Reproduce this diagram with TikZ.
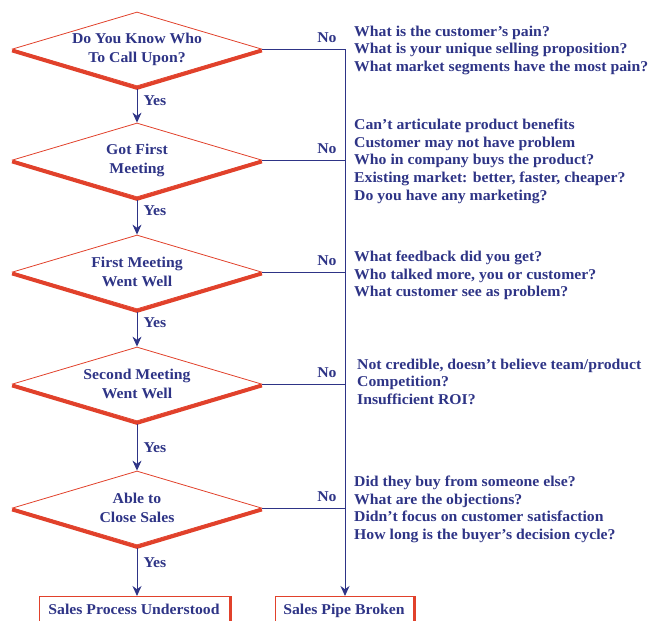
\documentclass[tikz,border=0pt]{standalone}
\usepackage{fontspec}
\setmainfont{Liberation Serif}[FakeStretch=1.05]
\usetikzlibrary{shapes.geometric,arrows.meta}
\definecolor{navy}{HTML}{2E3486}
\definecolor{redl}{HTML}{E1412B}
\begin{document}
\begin{tikzpicture}[x=1pt,y=-1pt,
  txt/.style={text=navy,font=\bfseries\fontsize{15}{17.8}\selectfont,inner sep=0pt},
  dec/.style={txt,diamond,draw=redl,line width=0.8pt,aspect=3.36,minimum width=249pt,minimum height=74pt,align=center,font=\bfseries\fontsize{15}{19}\selectfont},
  shade/.style={draw=redl,line width=3.6pt,line join=miter},
  conn/.style={draw=navy,line width=1pt},
  arr/.style={conn,-{Stealth[length=10pt,width=9pt]}},
  lbl/.style={txt},
  qs/.style={txt,align=left,anchor=north west},
  endbox/.style={txt,draw=redl,line width=0.8pt,anchor=north,inner ysep=8pt,text depth=22pt}
]
\clip (0,0) rectangle (649,621);
% decisions
\node[dec] (d1) at (137,49) {Do You Know Who\\To Call Upon?};
\node[dec] (d2) at (137,160) {Got First\\Meeting};
\node[dec] (d3) at (137,272) {First Meeting\\Went Well};
\node[dec] (d4) at (137,384) {Second Meeting\\Went Well};
\node[dec] (d5) at (137,508) {Able to\\Close Sales};
\foreach \d in {d1,d2,d3,d4,d5}{
  \draw[shade] ([yshift=-1.6pt]\d.west) -- ([yshift=-1.6pt]\d.south) -- ([yshift=-1.6pt]\d.east);
}
% end boxes
\node[endbox,minimum width=190pt] (b1) at (134,596) {Sales Process Understood};
\node[endbox,minimum width=138pt] (b2) at (344,596) {Sales Pipe Broken};
\draw[redl,line width=2.6pt] ([xshift=1pt]b1.north east) -- ([xshift=1pt]b1.south east);
\draw[redl,line width=2.6pt] ([xshift=1pt]b2.north east) -- ([xshift=1pt]b2.south east);
% yes connectors
\draw[arr] ([yshift=-3pt]d1.south) -- node[lbl,anchor=west,xshift=6pt,pos=0.35]{Yes} (d2.north);
\draw[arr] ([yshift=-3pt]d2.south) -- node[lbl,anchor=west,xshift=6pt,pos=0.3]{Yes} (d3.north);
\draw[arr] ([yshift=-3pt]d3.south) -- node[lbl,anchor=west,xshift=6pt,pos=0.3]{Yes} (d4.north);
\draw[arr] ([yshift=-3pt]d4.south) -- node[lbl,anchor=west,xshift=6pt,pos=0.5]{Yes} (d5.north);
\draw[arr] ([yshift=-3pt]d5.south) -- node[lbl,anchor=west,xshift=6pt,pos=0.3]{Yes} (d5.south |- b1.north);
% no connectors
\coordinate (bt) at (345,49);
\draw[arr] (d1.east) -- (bt) node[lbl,anchor=south east,xshift=-8pt,yshift=6pt]{No} -- (bt |- b2.north);
\foreach \d in {d2,d3,d4,d5}{
  \draw[conn] (\d.east) -- (\d.east -| bt) node[lbl,anchor=south east,xshift=-8pt,yshift=6pt]{No};
}
% question blocks
\node[qs] (q1) at (354,25.5) {What is the customer’s pain?\\What is your unique selling proposition?\\What market segments have the most pain?};
\node[qs] (q2) at (354,118.5) {Can’t articulate product benefits\\Customer may not have problem\\Who in company buys the product?\\Existing market: better, faster, cheaper?\\Do you have any marketing?};
\node[qs] (q3) at (354,250.5) {What feedback did you get?\\Who talked more, you or customer?\\What customer see as problem?};
\node[qs] (q4) at (357,358.5) {Not credible, doesn’t believe team/product\\Competition?\\Insufficient ROI?};
\node[qs] (q5) at (354,475.5) {Did they buy from someone else?\\What are the objections?\\Didn’t focus on customer satisfaction\\How long is the buyer’s decision cycle?};
\end{tikzpicture}
\end{document}
